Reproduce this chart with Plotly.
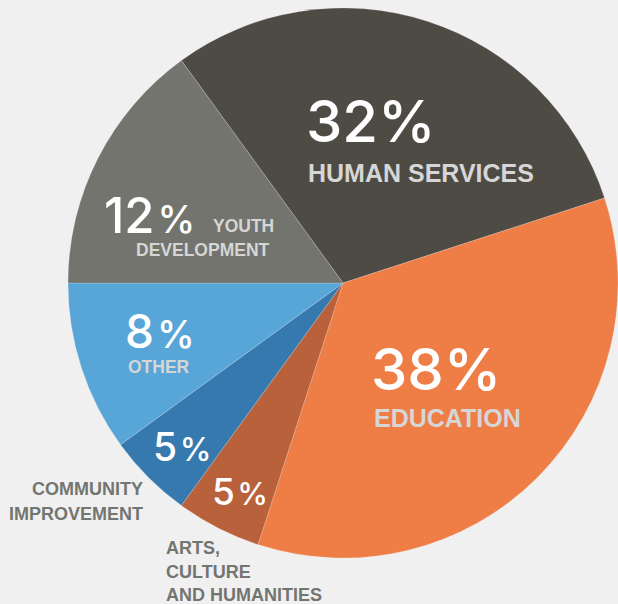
import plotly.graph_objects as go

# Slice data (angular sizes), clockwise from the top-left
categories = ["HUMAN SERVICES", "EDUCATION", "ARTS, CULTURE AND HUMANITIES",
              "COMMUNITY IMPROVEMENT", "OTHER", "YOUTH DEVELOPMENT"]
slice_values = [30, 35, 5, 5, 10, 15]
pct_labels = ["32", "38", "5", "5", "8", "12"]
colors = ["#4e4b44", "#ef7d46", "#b9613a", "#3579ae", "#58a6d8", "#72746d"]

W, H = 618, 604
BG = "#f0f0f0"
NUM_FONT = "Inter"
LAB_FONT = "Liberation Sans"


def px(x):
    return x / W


def py(y):
    return 1 - y / H


fig = go.Figure(go.Pie(
    labels=categories,
    values=slice_values,
    sort=False,
    direction="clockwise",
    rotation=-36,
    marker=dict(colors=colors, line=dict(color="rgba(240,240,240,0.35)", width=0.6)),
    textinfo="none",
    hoverinfo="label",
    showlegend=False,
    domain=dict(x=[px(343 - 275), px(343 + 275)], y=[py(558), py(8)]),
))

ann = []


def add(text, x, y, size, color, font, xanchor="left", bold=False, weight=None):
    t = f"<b>{text}</b>" if bold else text
    f = dict(size=size, color=color, family=font)
    if weight:
        f["weight"] = weight
    ann.append(dict(text=t, x=px(x), y=py(y), xref="paper", yref="paper",
                    xanchor=xanchor, yanchor="middle", showarrow=False, font=f))


LIGHT = "#d6d6d6"
DARKLAB = "#737570"

# big percentages
add(pct_labels[0] + "%", 304, 121, 58, "white", NUM_FONT, weight=500)
add(categories[0], 306, 173, 25, LIGHT, LAB_FONT, bold=True)
add(pct_labels[1] + "%", 369, 369, 58, "white", NUM_FONT, weight=500)
add(categories[1], 372, 418, 25, LIGHT, LAB_FONT, bold=True)


def small_pct(num, psize):
    return f"{num}<span style='font-size:{psize * 0.3:.0f}px'> </span><span style='font-size:{psize}px'>%</span>"


add(small_pct(pct_labels[5], 38), 102, 215, 49, "white", NUM_FONT, weight=500)
add("YOUTH", 211, 226, 17.5, LIGHT, LAB_FONT, bold=True)
add("DEVELOPMENT", 272, 250, 17.5, LIGHT, LAB_FONT, xanchor="right", bold=True)

add(small_pct(pct_labels[4], 38), 123, 331, 46, "white", NUM_FONT, weight=500)
add(categories[4], 159, 367, 17.5, LIGHT, LAB_FONT, xanchor="center", bold=True)

add(small_pct(pct_labels[3], 32), 151, 446, 39, "white", NUM_FONT, weight=500)
add(small_pct(pct_labels[2], 31), 210, 491, 37, "white", NUM_FONT, weight=500)

add("COMMUNITY", 145, 489, 18, DARKLAB, LAB_FONT, xanchor="right", bold=True)
add("IMPROVEMENT", 145, 514, 18, DARKLAB, LAB_FONT, xanchor="right", bold=True)
add("ARTS,", 164, 548, 18, DARKLAB, LAB_FONT, bold=True)
add("CULTURE", 164, 572, 18, DARKLAB, LAB_FONT, bold=True)
add("AND HUMANITIES", 164, 595, 18, DARKLAB, LAB_FONT, bold=True)

fig.update_layout(
    width=W, height=H,
    margin=dict(l=0, r=0, t=0, b=0),
    paper_bgcolor=BG, plot_bgcolor=BG,
    annotations=ann,
)

fig.write_html("out.html", config={"displayModeBar": False},
               post_script="document.body.style.margin='0';")
